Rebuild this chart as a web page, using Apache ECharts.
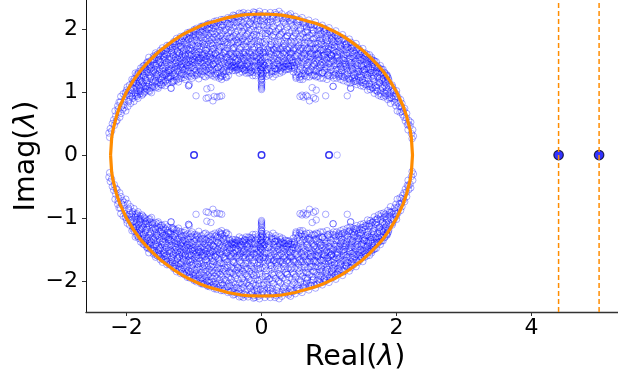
<!DOCTYPE html>
<html><head><meta charset="utf-8">
<style>html,body{margin:0;padding:0;background:#fff}#c{width:618px;height:380px}</style>
<script src="https://cdn.jsdelivr.net/npm/echarts@6/dist/echarts.min.js"></script>
</head><body><div id="c"></div>
<script>
const xTickValues = [-2, 0, 2, 4];
const yTickValues = [-2, -1, 0, 1, 2];
const outlierReal = [4.4, 5.0];
const stackedReal = [-1, 0, 1];
const faintAxisPoints = [[1.12, 0]];
// upper half of the orange ring as read; the lower half is its conjugate
const ringUpper = [[-2.236,0],[-2.22,.27],[-2.2,.4],[-2.15,.61],[-2.1,.77],[-2,1],[-1.9,1.18],[-1.8,1.33],[-1.7,1.45],[-1.6,1.56],[-1.5,1.66],[-1.4,1.74],[-1.3,1.82],[-1.2,1.89],[-1.1,1.95],[-1,2],[-.9,2.05],[-.8,2.09],[-.7,2.12],[-.6,2.15],[-.5,2.18],[-.4,2.2],[-.3,2.22],[-.2,2.23],[-.1,2.234],[0,2.236],[.1,2.234],[.2,2.23],[.3,2.22],[.4,2.2],[.5,2.18],[.6,2.15],[.7,2.12],[.8,2.09],[.9,2.05],[1,2],[1.1,1.95],[1.2,1.89],[1.3,1.82],[1.4,1.74],[1.5,1.66],[1.6,1.56],[1.7,1.45],[1.8,1.33],[1.9,1.18],[2,1],[2.1,.77],[2.15,.61],[2.2,.4],[2.22,.27],[2.236,0]];
// eigenvalues come in conjugate pairs in the picture: only the upper half cloud is listed
const cloudLeft = [
[-2.26,.35],[-2.25,.28],[-2.24,.42],[-2.22,.38],[-2.21,.5],[-2.19,.56],[-2.18,.47],[-2.16,.62],[-2.17,.7],[-2.14,.55],
[-2.12,.68],[-2.1,.6],[-2.13,.78],[-2.11,.84],[-2.08,.66],[-2.06,.72],[-2.04,.8],[-2.09,.84],[-2.02,.93],[-2.05,.97],[-2.01,.7],[-2.03,.88],[-2.07,.78],[-2,1.03],
[-1.98,.77],[-1.96,.88],[-1.94,.82],[-1.92,.98],[-1.97,1.02],[-1.93,1.08],[-1.91,.9],[-1.95,.94],[-1.99,1.08],[-1.9,1.14],[-1.92,1.2],
[-1.89,.85],[-1.87,.94],[-1.85,1.02],[-1.83,.9],[-1.88,1.1],[-1.86,1.19],[-1.84,1.26],[-1.81,1.08],[-1.82,1.32],[-1.8,.97],[-1.87,1.3],[-1.85,1.14],
[-1.79,1.06],[-1.77,.95],[-1.75,1.14],[-1.73,1.01],[-1.78,1.24],[-1.76,1.33],[-1.72,1.2],[-1.74,1.42],[-1.71,1.09],[-1.79,1.38],[-1.77,1.17],[-1.73,1.3],[-1.7,1.46],
[-1.69,1.04],[-1.67,1.12],[-1.65,1.22],[-1.63,.99],[-1.68,1.31],[-1.66,1.4],[-1.62,1.16],[-1.64,1.5],[-1.61,1.3],[-1.69,1.48],[-1.67,1.55],[-1.63,1.38],[-1.6,1.57],[-1.65,1.06],
[-1.59,1.09],[-1.57,1.18],[-1.55,1.28],[-1.53,1.06],[-1.58,1.36],[-1.56,1.45],[-1.52,1.21],[-1.54,1.55],[-1.51,1.36],[-1.59,1.52],[-1.57,1.62],[-1.53,1.44],[-1.5,1.66],[-1.55,1.13],[-1.52,1.58],
[-1.49,1.12],[-1.47,1.24],[-1.45,1.33],[-1.43,1.1],[-1.48,1.42],[-1.46,1.52],[-1.42,1.27],[-1.44,1.61],[-1.41,1.4],[-1.49,1.58],[-1.47,1.7],[-1.43,1.5],[-1.4,1.74],[-1.45,1.18],[-1.42,1.66],[-1.48,1.3],
[-1.39,1.14],[-1.37,1.25],[-1.35,1.36],[-1.33,1.17],[-1.38,1.46],[-1.36,1.56],[-1.32,1.3],[-1.34,1.66],[-1.31,1.44],[-1.39,1.62],[-1.37,1.74],[-1.33,1.54],[-1.3,1.8],[-1.35,1.22],[-1.32,1.71],[-1.38,1.34],[-1.34,1.06],[-1.34,1.06],
[-1.29,1.18],[-1.27,1.3],[-1.25,1.41],[-1.23,1.16],[-1.28,1.5],[-1.26,1.6],[-1.22,1.34],[-1.24,1.71],[-1.21,1.48],[-1.29,1.67],[-1.27,1.8],[-1.23,1.58],[-1.2,1.88],[-1.25,1.24],[-1.22,1.77],[-1.28,1.4],[-1.24,1.52],[-1.26,1.85],
[-1.19,1.22],[-1.17,1.35],[-1.15,1.45],[-1.13,1.2],[-1.18,1.55],[-1.16,1.65],[-1.12,1.38],[-1.14,1.76],[-1.11,1.52],[-1.19,1.72],[-1.17,1.85],[-1.13,1.62],[-1.1,1.94],[-1.15,1.28],[-1.12,1.82],[-1.18,1.44],[-1.14,1.9],[-1.16,1.56],[-1.08,1.1],[-1.08,1.1],[-1.07,1.12],
[-1.09,1.25],[-1.07,1.38],[-1.05,1.5],[-1.03,1.22],[-1.08,1.6],[-1.06,1.7],[-1.02,1.42],[-1.04,1.8],[-1.01,1.56],[-1.09,1.76],[-1.07,1.9],[-1.03,1.66],[-1,1.99],[-1.05,1.3],[-1.02,1.87],[-1.08,1.47],[-1.04,1.94],[-1.06,1.58],[-.97,.94],
[-.99,1.26],[-.97,1.34],[-.95,1.47],[-.93,1.21],[-.98,1.58],[-.96,1.68],[-.92,1.4],[-.94,1.78],[-.91,1.54],[-.99,1.82],[-.97,1.95],[-.93,1.64],[-.9,2.04],[-.95,1.29],[-.92,1.9],[-.98,1.44],[-.94,1.99],[-.96,1.55],[-.91,1.72],
[-.89,1.28],[-.87,1.38],[-.85,1.5],[-.83,1.24],[-.88,1.6],[-.86,1.71],[-.82,1.43],[-.84,1.82],[-.81,1.57],[-.89,1.86],[-.87,1.98],[-.83,1.66],[-.8,2.08],[-.85,1.32],[-.82,1.93],[-.88,1.46],[-.84,2.03],[-.86,1.59],[-.81,1.76],[-.82,.9],[-.79,.91],[-.81,1.05],[-.75,1.07],[-.72,.86],[-.7,.93],
[-.79,1.27],[-.77,1.38],[-.75,1.52],[-.73,1.26],[-.78,1.62],[-.76,1.73],[-.72,1.44],[-.74,1.84],[-.71,1.58],[-.79,1.9],[-.77,2.02],[-.73,1.68],[-.7,2.12],[-.75,1.34],[-.72,1.96],[-.78,1.48],[-.74,2.07],[-.76,1.6],[-.71,1.78],[-.66,.92],[-.59,.94],[-.62,.93],
[-.69,1.24],[-.67,1.36],[-.65,1.5],[-.63,1.22],[-.68,1.62],[-.66,1.74],[-.62,1.42],[-.64,1.86],[-.61,1.56],[-.69,1.92],[-.67,2.05],[-.63,1.68],[-.6,2.15],[-.65,1.3],[-.62,1.98],[-.68,1.46],[-.64,2.1],[-.66,1.58],[-.61,1.8],
[-.59,1.2],[-.57,1.32],[-.55,1.46],[-.53,1.24],[-.58,1.58],[-.56,1.72],[-.52,1.4],[-.54,1.84],[-.51,1.55],[-.59,1.92],[-.57,2.06],[-.53,1.66],[-.5,2.18],[-.55,1.28],[-.52,2],[-.58,1.44],[-.54,2.12],[-.56,1.62],[-.51,1.78],[-.6,1.26],
[-.49,1.26],[-.47,1.36],[-.45,1.48],[-.43,1.34],[-.48,1.6],[-.46,1.74],[-.42,1.42],[-.44,1.86],[-.41,1.56],[-.49,1.94],[-.47,2.08],[-.43,1.68],[-.4,2.21],[-.45,1.4],[-.42,2.02],[-.48,1.5],[-.44,2.15],[-.46,1.62],[-.41,1.8],[-.42,2.22],
[-.39,1.34],[-.37,1.4],[-.35,1.5],[-.33,1.3],[-.38,1.62],[-.36,1.74],[-.32,1.44],[-.34,1.86],[-.31,1.56],[-.39,1.95],[-.37,2.1],[-.33,1.68],[-.3,2.24],[-.35,1.36],[-.32,2.03],[-.38,1.46],[-.34,2.16],[-.36,1.6],[-.31,1.8],[-.33,2.25],
[-.29,1.32],[-.27,1.38],[-.25,1.5],[-.23,1.3],[-.28,1.62],[-.26,1.75],[-.22,1.42],[-.24,1.88],[-.21,1.56],[-.29,1.96],[-.27,2.1],[-.23,1.68],[-.2,2.25],[-.25,1.35],[-.22,2.03],[-.28,1.46],[-.24,2.17],[-.26,1.6],[-.21,1.8],[-.27,2.26],
[-.19,1.3],[-.17,1.38],[-.15,1.5],[-.13,1.26],[-.18,1.62],[-.16,1.75],[-.12,1.42],[-.14,1.88],[-.11,1.56],[-.19,1.97],[-.17,2.11],[-.13,1.68],[-.1,2.26],[-.15,1.33],[-.12,2.04],[-.18,1.46],[-.14,2.17],[-.16,1.6],[-.11,1.8],[-.12,2.27],
[-.09,1.26],[-.07,1.3],[-.05,1.42],[-.08,1.62],[-.06,1.75],[-.04,1.52],[-.03,1.88],[-.09,1.97],[-.07,2.11],[-.02,1.66],[-.05,2.24],[-.08,1.48],[-.04,2.04],[-.06,2.17],[-.03,2.28],[-.02,1.8]
];
const cloudSpike = [
[0,1.04],[0,1.06],[0,1.08],[0,1.1],[0,1.12],[.005,1.15],[-.005,1.18],[.005,1.21],[-.005,1.24],[.01,1.27],[-.01,1.3],[.01,1.33],[-.01,1.36],[.01,1.39],[-.012,1.42],[.015,1.45],[-.015,1.48],[.015,1.51],[-.018,1.54],[.02,1.57],[-.02,1.6],[.022,1.63],[-.024,1.66],[.025,1.69],[0,1.5],[0,1.4],[0,1.3],[0,1.2],[.01,1.25],[-.01,1.35]
];
const cloudRight = [
[.03,1.3],[.05,1.42],[.07,1.56],[.09,1.68],[.04,1.8],[.06,1.93],[.08,2.06],[.02,2.17],[.05,2.26],[.09,1.36],[.07,1.25],[.03,1.62],[.06,1.76],[.08,2],[.04,2.12],[.09,2.22],
[.11,1.27],[.13,1.38],[.15,1.5],[.17,1.24],[.12,1.62],[.14,1.75],[.18,1.42],[.16,1.88],[.19,1.56],[.11,1.97],[.13,2.11],[.17,1.68],[.2,2.26],[.15,1.33],[.18,2.04],[.12,1.46],[.16,2.17],[.14,1.6],[.19,1.8],[.13,2.26],
[.21,1.28],[.23,1.36],[.25,1.5],[.27,1.3],[.22,1.62],[.24,1.75],[.28,1.42],[.26,1.88],[.29,1.56],[.21,1.96],[.23,2.1],[.27,1.68],[.3,2.24],[.25,1.38],[.28,2.03],[.22,1.46],[.26,2.17],[.24,1.6],[.29,1.8],[.26,2.28],
[.31,1.32],[.33,1.4],[.35,1.5],[.37,1.36],[.32,1.62],[.34,1.74],[.38,1.44],[.36,1.86],[.39,1.56],[.31,1.95],[.33,2.1],[.37,1.68],[.4,2.22],[.35,1.35],[.38,2.03],[.32,1.46],[.36,2.16],[.34,1.6],[.39,1.8],[.43,2.24],
[.41,1.36],[.43,1.42],[.45,1.5],[.47,1.32],[.42,1.62],[.44,1.74],[.48,1.42],[.46,1.86],[.49,1.56],[.41,1.94],[.43,2.08],[.47,1.68],[.5,2.2],[.45,1.38],[.48,2.02],[.42,1.5],[.46,2.15],[.44,1.62],[.49,1.8],
[.51,1.22],[.53,1.32],[.55,1.46],[.57,1.2],[.52,1.58],[.54,1.72],[.58,1.4],[.56,1.84],[.59,1.55],[.51,1.92],[.53,2.06],[.57,1.66],[.6,2.18],[.55,1.28],[.58,2],[.52,1.44],[.56,2.12],[.54,1.62],[.59,1.78],[.57,.93],[.6,.95],[.62,.92],[.68,.93],[.66,.95],[.71,.86],[.8,.89],[.77,.91],
[.61,1.2],[.63,1.34],[.65,1.5],[.67,1.24],[.62,1.62],[.64,1.74],[.68,1.42],[.66,1.86],[.69,1.56],[.61,1.92],[.63,2.05],[.67,1.68],[.7,2.14],[.65,1.3],[.68,1.98],[.62,1.46],[.66,2.1],[.64,1.58],[.69,1.8],
[.71,1.24],[.73,1.36],[.75,1.52],[.77,1.26],[.72,1.62],[.74,1.73],[.78,1.44],[.76,1.84],[.79,1.58],[.71,1.9],[.73,2.02],[.77,1.68],[.8,2.11],[.75,1.07],[.81,1.03],[.78,1.34],[.72,1.48],[.74,2.07],[.76,1.6],[.79,1.78],
[.81,1.24],[.83,1.38],[.85,1.5],[.87,1.22],[.82,1.6],[.84,1.71],[.88,1.43],[.86,1.82],[.89,1.57],[.81,1.86],[.83,1.98],[.87,1.66],[.9,2.06],[.85,1.32],[.88,1.93],[.82,1.46],[.86,2.03],[.84,1.59],[.89,1.76],
[.91,1.22],[.93,1.34],[.95,1.47],[.97,1.2],[.92,1.58],[.94,1.68],[.98,1.4],[.96,1.78],[.99,1.54],[.91,1.82],[.93,1.95],[.97,1.64],[1,2.02],[.95,.94],[.98,1.9],[.92,1.44],[.96,1.99],[.94,1.55],[.99,1.72],
[1.01,1.25],[1.03,1.36],[1.05,1.5],[1.07,1.22],[1.02,1.6],[1.04,1.7],[1.08,1.42],[1.06,1.8],[1.09,1.56],[1.01,1.76],[1.03,1.9],[1.07,1.66],[1.1,1.97],[1.06,1.09],[1.06,1.09],[1.02,1.47],[1.06,1.94],[1.04,1.58],[1.09,1.85],
[1.11,1.22],[1.13,1.35],[1.15,1.45],[1.17,1.2],[1.12,1.55],[1.14,1.65],[1.18,1.38],[1.16,1.76],[1.19,1.52],[1.11,1.72],[1.13,1.85],[1.17,1.62],[1.2,1.91],[1.15,1.28],[1.18,1.82],[1.12,1.44],
[1.21,1.18],[1.23,1.3],[1.25,1.41],[1.27,1.16],[1.22,1.5],[1.24,1.6],[1.28,1.34],[1.26,1.71],[1.29,1.48],[1.21,1.67],[1.23,1.8],[1.27,1.58],[1.3,1.84],[1.27,.94],[1.32,1.06],[1.32,1.06],[1.22,1.4],[1.26,1.77],
[1.31,1.14],[1.33,1.25],[1.35,1.36],[1.37,1.17],[1.32,1.46],[1.34,1.56],[1.38,1.3],[1.36,1.66],[1.39,1.44],[1.31,1.62],[1.33,1.74],[1.37,1.54],[1.4,1.77],[1.35,1.22],[1.38,1.71],[1.32,1.34],
[1.41,1.12],[1.43,1.24],[1.45,1.33],[1.47,1.1],[1.42,1.42],[1.44,1.52],[1.48,1.27],[1.46,1.61],[1.49,1.4],[1.41,1.58],[1.43,1.7],[1.47,1.5],[1.5,1.69],[1.45,1.18],[1.48,1.62],[1.42,1.3],
[1.51,1.09],[1.53,1.18],[1.55,1.28],[1.57,1.03],[1.52,1.36],[1.54,1.45],[1.58,1.21],[1.56,1.55],[1.59,1.36],[1.51,1.52],[1.53,1.62],[1.57,1.44],[1.6,1.59],[1.55,1.13],[1.58,1.52],
[1.61,1.04],[1.63,1.12],[1.65,1.22],[1.67,.98],[1.62,1.31],[1.64,1.4],[1.68,1.16],[1.66,1.5],[1.69,1.3],[1.61,1.48],[1.63,1.55],[1.67,1.38],[1.7,1.48],[1.65,1.06],
[1.71,1.02],[1.73,.95],[1.75,1.14],[1.77,.93],[1.72,1.24],[1.74,1.33],[1.78,1.2],[1.76,1.42],[1.79,1.09],[1.71,1.38],[1.73,1.17],[1.77,1.3],[1.8,1.36],
[1.81,.92],[1.83,.98],[1.85,1.02],[1.87,.88],[1.82,1.1],[1.84,1.19],[1.86,1.26],[1.89,1.08],[1.88,1.22],[1.9,.97],[1.83,1.3],
[1.91,.82],[1.93,.9],[1.95,.94],[1.97,.84],[1.92,1.02],[1.94,1.08],[1.96,1.03],[1.99,.78],[1.98,.93],[2,1.02],
[2.01,.7],[2.03,.82],[2.05,.68],[2.07,.76],[2.02,.92],[2.06,.88],[2.09,.64],[2.08,.82],
[2.11,.6],[2.13,.54],[2.15,.66],[2.12,.74],[2.16,.48],[2.18,.55],[2.17,.4],[2.2,.46],[2.22,.34],[2.24,.4],[2.23,.26],[2.25,.3],[2.21,.52]
];
const cloudFillLeft = [
[-2.155,.53],[-2.125,.73],[-2.085,.93],[-2.035,.75],[-2.015,.99],[-1.97,.85],[-1.93,1.03],[-1.915,.93],[-1.955,1.11],[-1.985,.97],[-1.905,1.17],
[-1.875,.97],[-1.835,1.23],[-1.855,1.07],[-1.815,1.01],[-1.895,1.15],[-1.845,.93],[-1.805,1.17],[-1.825,1.29],
[-1.785,1.01],[-1.765,1.27],[-1.745,1.09],[-1.725,1.37],[-1.705,1.15],[-1.755,1.41],[-1.735,.99],[-1.715,1.23],[-1.795,1.19],
[-1.685,1.09],[-1.665,1.27],[-1.645,1.43],[-1.625,1.07],[-1.605,1.19],[-1.695,1.35],[-1.655,1.01],[-1.635,1.33],[-1.615,1.51],[-1.675,1.47],
[-1.585,1.23],[-1.565,1.07],[-1.545,1.39],[-1.525,1.51],[-1.505,1.15],[-1.595,1.43],[-1.555,1.59],[-1.535,1.27],[-1.515,1.47],[-1.575,1.31],[-1.505,1.61],
[-1.485,1.19],[-1.465,1.37],[-1.445,1.55],[-1.425,1.17],[-1.405,1.29],[-1.495,1.47],[-1.455,1.65],[-1.435,1.43],[-1.415,1.59],[-1.475,1.11],[-1.405,1.69],[-1.445,1.27],
[-1.385,1.23],[-1.365,1.41],[-1.345,1.51],[-1.325,1.63],[-1.305,1.17],[-1.395,1.53],[-1.355,1.69],[-1.335,1.37],[-1.315,1.77],[-1.375,1.31],[-1.305,1.57],[-1.345,1.25],
[-1.285,1.25],[-1.265,1.47],[-1.245,1.63],[-1.225,1.21],[-1.205,1.41],[-1.295,1.35],[-1.255,1.75],[-1.235,1.45],[-1.215,1.61],[-1.275,1.55],[-1.205,1.73],[-1.245,1.33],[-1.285,1.73],
[-1.185,1.29],[-1.165,1.51],[-1.145,1.67],[-1.125,1.27],[-1.105,1.43],[-1.195,1.39],[-1.155,1.79],[-1.135,1.49],[-1.115,1.69],[-1.175,1.59],[-1.105,1.87],[-1.145,1.35],[-1.185,1.81],[-1.125,1.57],
[-1.085,1.33],[-1.065,1.53],[-1.045,1.69],[-1.025,1.29],[-1.005,1.47],[-1.095,1.41],[-1.055,1.85],[-1.035,1.59],[-1.015,1.73],[-1.075,1.65],[-1.005,1.91],[-1.045,1.39],[-1.085,1.83],[-1.025,1.49],[-1.065,1.95],
[-.985,1.31],[-.965,1.61],[-.945,1.73],[-.925,1.33],[-.905,1.47],[-.995,1.51],[-.955,1.87],[-.935,1.59],[-.915,1.81],[-.975,1.71],[-.905,1.97],[-.945,1.41],[-.985,1.89],[-.925,1.53],[-.965,2.01],
[-.885,1.33],[-.865,1.55],[-.845,1.75],[-.825,1.35],[-.805,1.49],[-.895,1.53],[-.855,1.91],[-.835,1.61],[-.815,1.85],[-.875,1.77],[-.805,2.01],[-.845,1.41],[-.885,1.95],[-.825,1.53],[-.865,2.05],[-.805,1.69],
[-.785,1.31],[-.765,1.55],[-.745,1.77],[-.725,1.35],[-.705,1.51],[-.795,1.43],[-.755,1.93],[-.735,1.63],[-.715,1.87],[-.775,1.81],[-.705,2.05],[-.745,1.41],[-.785,1.99],[-.725,1.53],[-.765,2.09],[-.705,1.69],
[-.685,1.29],[-.665,1.53],[-.645,1.79],[-.625,1.31],[-.605,1.49],[-.695,1.41],[-.655,1.95],[-.635,1.65],[-.615,1.89],[-.675,1.83],[-.605,2.07],[-.645,1.39],[-.685,2.01],[-.625,1.55],[-.665,2.13],[-.605,1.71],
[-.585,1.25],[-.565,1.51],[-.545,1.79],[-.525,1.33],[-.505,1.47],[-.595,1.37],[-.555,1.97],[-.535,1.61],[-.515,1.89],[-.575,1.85],[-.505,2.09],[-.545,1.39],[-.585,2.03],[-.525,1.55],[-.565,2.15],[-.505,1.69],
[-.485,1.33],[-.465,1.51],[-.445,1.79],[-.425,1.47],[-.405,1.39],[-.495,1.43],[-.455,1.97],[-.435,1.61],[-.415,1.89],[-.475,1.85],[-.405,2.11],[-.445,1.41],[-.485,2.03],[-.425,1.55],[-.465,2.17],[-.405,1.71],
[-.385,1.39],[-.365,1.53],[-.345,1.79],[-.325,1.37],[-.305,1.49],[-.395,1.41],[-.355,1.97],[-.335,1.63],[-.315,1.89],[-.375,1.83],[-.305,2.13],[-.345,1.43],[-.385,2.05],[-.325,1.57],[-.365,2.19],[-.305,1.71],
[-.285,1.37],[-.265,1.53],[-.245,1.81],[-.225,1.35],[-.205,1.49],[-.295,1.43],[-.255,1.99],[-.235,1.63],[-.215,1.91],[-.275,1.85],[-.205,2.13],[-.245,1.41],[-.285,2.05],[-.225,1.57],[-.265,2.21],[-.205,1.71],
[-.185,1.35],[-.165,1.53],[-.145,1.81],[-.125,1.31],[-.105,1.49],[-.195,1.41],[-.155,1.99],[-.135,1.63],[-.115,1.91],[-.175,1.85],[-.105,2.15],[-.145,1.39],[-.185,2.07],[-.125,1.57],[-.165,2.21],[-.105,1.71],
[-.085,1.35],[-.065,1.55],[-.045,1.81],[-.025,1.45],[-.095,1.41],[-.055,1.99],[-.035,1.63],[-.075,1.91],[-.015,2.13],[-.085,2.07],[-.025,1.73],[-.065,2.21]
];
const cloudFillRight = [
[.015,1.93],[.035,1.43],[.055,1.63],[.075,1.83],[.095,1.47],[.025,2.07],[.065,1.35],[.085,1.93],[.045,2.19],[.095,2.11],
[.105,1.41],[.125,1.55],[.145,1.81],[.165,1.33],[.185,1.49],[.115,1.71],[.155,1.99],[.135,1.65],[.175,1.91],[.195,1.37],[.125,2.15],[.165,2.21],[.185,1.67],
[.205,1.33],[.225,1.53],[.245,1.81],[.265,1.41],[.285,1.49],[.215,1.71],[.255,1.99],[.235,1.65],[.275,1.91],[.295,1.37],[.225,2.15],[.265,2.21],[.285,1.69],
[.305,1.39],[.325,1.53],[.345,1.81],[.365,1.45],[.385,1.49],[.315,1.71],[.355,1.97],[.335,1.65],[.375,1.89],[.395,1.41],[.325,2.13],[.365,2.19],[.385,1.67],
[.405,1.41],[.425,1.55],[.445,1.79],[.465,1.47],[.485,1.37],[.415,1.69],[.455,1.97],[.435,1.61],[.475,1.89],[.495,1.47],[.425,2.13],[.465,2.17],[.485,1.69],
[.505,1.27],[.525,1.51],[.545,1.79],[.565,1.35],[.585,1.25],[.515,1.69],[.555,1.97],[.535,1.57],[.575,1.89],[.595,1.47],[.525,2.11],[.565,2.15],[.585,1.69],
[.605,1.29],[.625,1.53],[.645,1.79],[.665,1.37],[.685,1.33],[.615,1.69],[.655,1.95],[.635,1.61],[.675,1.87],[.695,1.47],[.625,2.09],[.665,2.03],[.685,1.69],
[.705,1.31],[.725,1.55],[.745,1.77],[.765,1.41],[.785,1.27],[.715,1.69],[.755,1.93],[.735,1.61],[.775,1.85],[.795,1.49],[.725,2.07],[.765,1.97],[.785,1.67],
[.805,1.33],[.825,1.53],[.845,1.77],[.865,1.39],[.885,1.29],[.815,1.69],[.855,1.91],[.835,1.61],[.875,1.85],[.895,1.47],[.825,2.05],[.865,1.97],[.885,1.67],
[.905,1.31],[.925,1.51],[.945,1.73],[.965,1.37],[.985,1.27],[.915,1.67],[.955,1.87],[.935,1.59],[.975,1.81],[.995,1.45],[.925,2.01],[.965,1.93],[.985,1.63],
[1.005,1.31],[1.025,1.53],[1.045,1.75],[1.065,1.33],[1.085,1.27],[1.015,1.67],[1.055,1.87],[1.035,1.57],[1.075,1.79],[1.095,1.45],[1.025,1.95],[1.065,1.61],[1.085,1.91],
[1.105,1.29],[1.125,1.49],[1.145,1.71],[1.165,1.31],[1.185,1.25],[1.115,1.63],[1.155,1.83],[1.135,1.57],[1.175,1.73],[1.195,1.45],[1.125,1.89],[1.165,1.41],
[1.205,1.25],[1.225,1.45],[1.245,1.67],[1.265,1.27],[1.285,1.21],[1.215,1.59],[1.255,1.75],[1.235,1.53],[1.275,1.71],[1.295,1.41],[1.225,1.85],[1.265,1.37],
[1.305,1.21],[1.325,1.41],[1.345,1.63],[1.365,1.27],[1.385,1.17],[1.315,1.53],[1.355,1.71],[1.335,1.47],[1.375,1.61],[1.395,1.37],[1.325,1.79],
[1.405,1.19],[1.425,1.37],[1.445,1.59],[1.465,1.23],[1.485,1.15],[1.415,1.49],[1.455,1.67],[1.435,1.45],[1.475,1.55],[1.495,1.33],
[1.505,1.15],[1.525,1.31],[1.545,1.51],[1.565,1.23],[1.585,1.09],[1.515,1.43],[1.555,1.37],[1.535,1.57],[1.575,1.49],[1.595,1.29],
[1.605,1.09],[1.625,1.25],[1.645,1.47],[1.665,1.19],[1.685,1.03],[1.615,1.37],[1.655,1.31],[1.635,1.51],[1.675,1.43],
[1.705,1.07],[1.725,1.31],[1.745,1.21],[1.765,1.03],[1.785,1.31],[1.715,1.41],[1.755,1.37],[1.795,1.17],
[1.815,.99],[1.835,1.15],[1.855,1.25],[1.875,.95],[1.895,1.13],[1.845,1.07],[1.865,1.19],[1.805,1.27],
[1.915,.91],[1.935,1.11],[1.955,1.01],[1.975,.89],[1.995,.97],[2.015,.83],[2.045,.77],[2.075,.69],[2.105,.71],[2.145,.59],[2.175,.49]
];
const cloudSweep = [
[-1.9,1.05],[-1.885,1.21],[-1.872,.99],[-1.86,1.14],[-1.848,1.28],[-1.836,.96],[-1.822,1.11],[-1.81,1.24],[-1.796,1.03],[-1.783,1.34],[-1.771,1.12],[-1.758,.97],[-1.744,1.26],[-1.731,1.39],[-1.719,1.06],[-1.707,1.32],[-1.693,1.18],[-1.68,1.43],[-1.668,1.02],[-1.655,1.36],[-1.641,1.24],[-1.629,1.48],[-1.617,1.11],[-1.603,1.34],
[-1.59,1.55],[-1.578,1.16],[-1.566,1.42],[-1.553,1.25],[-1.541,1.6],[-1.528,1.09],[-1.514,1.33],[-1.502,1.49],[-1.49,1.22],[-1.477,1.64],[-1.463,1.38],[-1.451,1.15],[-1.439,1.57],[-1.426,1.3],[-1.412,1.47],[-1.4,1.68],[-1.387,1.2],[-1.374,1.52],[-1.362,1.34],[-1.349,1.72],[-1.337,1.43],[-1.323,1.15],[-1.311,1.6],[-1.299,1.28],
[-1.286,1.77],[-1.273,1.46],[-1.261,1.19],[-1.248,1.65],[-1.236,1.37],[-1.222,1.82],[-1.21,1.54],[-1.197,1.27],[-1.185,1.7],[-1.172,1.4],[-1.159,1.88],[-1.147,1.23],[-1.133,1.59],[-1.121,1.46],[-1.108,1.79],[-1.096,1.33],[-1.083,1.67],[-1.07,1.92],[-1.058,1.44],[-1.045,1.25],[-1.031,1.75],[-1.019,1.52],[-1.007,1.97],
[-.994,1.37],[-.981,1.63],[-.968,1.83],[-.956,1.27],[-.942,1.5],[-.93,1.92],[-.917,1.68],[-.904,1.35],[-.891,2.03],[-.878,1.58],[-.866,1.79],[-.852,1.25],[-.84,1.47],[-.827,1.96],[-.814,1.66],[-.801,2.07],[-.789,1.37],[-.776,1.87],[-.763,1.56],[-.75,1.29],[-.737,2.01],[-.724,1.74],[-.712,1.45],
[-.699,2.09],[-.686,1.61],[-.673,1.27],[-.66,1.89],[-.647,1.39],[-.634,2.03],[-.621,1.72],[-.609,1.24],[-.596,1.53],[-.583,2.12],[-.57,1.81],[-.557,1.35],[-.544,1.64],[-.531,1.98],[-.519,1.23],[-.506,1.75],[-.493,2.15],[-.48,1.44],[-.467,1.87],[-.454,1.57],[-.441,2.07],[-.428,1.38],[-.416,1.69],
[-.403,2.18],[-.39,1.51],[-.377,1.91],[-.364,1.35],[-.351,1.78],[-.338,2.11],[-.325,1.6],[-.313,1.42],[-.3,2.2],[-.287,1.83],[-.274,1.54],[-.261,2.02],[-.248,1.34],[-.235,1.72],[-.222,2.22],[-.21,1.45],[-.197,1.93],[-.184,1.64],[-.171,1.31],[-.158,2.09],[-.145,1.76],[-.132,1.49],[-.119,2.23],
[-.107,1.37],[-.094,1.86],[-.081,1.59],[-.068,2.14],[-.055,1.33],[-.042,1.7],[-.029,1.98],[-.016,1.47],[-.004,2.22],[.009,1.78],[.022,1.38],[.035,2.05],[.048,1.55],[.061,1.89],[.074,1.3],[.087,2.19],[.1,1.65],[.113,1.44],[.126,1.96],[.139,1.75],[.151,1.3],[.164,2.11],[.177,1.53],
[.19,1.86],[.203,1.37],[.216,2.23],[.229,1.69],[.242,1.44],[.255,2.01],[.268,1.59],[.281,1.34],[.293,1.92],[.306,2.17],[.319,1.48],[.332,1.77],[.345,1.4],[.358,2.08],[.371,1.62],[.384,1.89],[.397,1.37],[.41,2.19],[.422,1.54],[.435,1.81],[.448,1.42],[.461,2.05],[.474,1.66],[.487,1.39],
[.5,1.94],[.513,1.24],[.526,2.14],[.539,1.49],[.552,1.74],[.564,1.23],[.577,2.02],[.59,1.58],[.603,1.35],[.616,1.86],[.629,2.11],[.642,1.26],[.655,1.66],[.668,1.44],[.681,1.95],[.694,2.08],[.707,1.34],[.72,1.77],[.733,1.57],[.746,1.27],[.758,1.99],[.771,1.46],[.784,2.06],[.797,1.71],
[.81,1.36],[.823,1.9],[.836,1.25],[.849,1.55],[.862,2.01],[.875,1.43],[.888,1.79],[.901,1.3],[.914,1.62],[.927,1.97],[.939,1.4],[.952,1.84],[.965,1.52],[.978,1.26],[.991,1.69],[1.004,1.94],[1.017,1.39],[1.03,1.59],[1.043,1.83],[1.056,1.26],[1.069,1.49],[1.082,1.73],[1.095,1.9],
[1.108,1.36],[1.12,1.59],[1.133,1.8],[1.146,1.25],[1.159,1.5],[1.172,1.69],[1.185,1.34],[1.198,1.84],[1.211,1.56],[1.224,1.23],[1.237,1.74],[1.25,1.44],[1.263,1.63],[1.276,1.29],[1.289,1.78],[1.301,1.52],[1.314,1.19],[1.327,1.69],[1.34,1.38],[1.353,1.59],[1.366,1.74],[1.379,1.23],
[1.392,1.49],[1.405,1.66],[1.418,1.16],[1.431,1.33],[1.444,1.55],[1.457,1.27],[1.47,1.64],[1.482,1.42],[1.495,1.2],[1.508,1.58],[1.521,1.35],[1.534,1.12],[1.547,1.47],[1.56,1.6],[1.573,1.26],[1.586,1.4],[1.599,1.13],[1.612,1.53],[1.625,1.34],[1.638,1.07],[1.651,1.44],[1.664,1.26],
[1.677,1.49],[1.69,1.1],[1.703,1.33],[1.716,1.01],[1.729,1.39],[1.742,1.15],[1.755,1.28],[1.768,.97],[1.781,1.36],[1.794,1.06],[1.807,1.22],[1.82,1.31],[1.833,.94],[1.846,1.13],[1.859,1.27],[1.872,1.01],[1.885,1.19],[1.898,.9]
];
const upperCloud = cloudLeft.concat(cloudSpike, cloudRight, cloudFillLeft, cloudFillRight, cloudSweep);
const cloud = upperCloud.concat(upperCloud.map(([re, im]) => [re, -im]));
const ring = ringUpper.concat(ringUpper.slice().reverse().map(([re, im]) => [re, -im]));
const stacked = stackedReal.map(re => [re, 0]);
const outliers = outlierReal.map(re => [re, 0]);

const FONT = 'DejaVu Sans';
const minus = v => String(v).replace('-', '\u2212');
const label = a => '{n|' + a + '(}{i|\u03bb}{n|)}';
const rich = {
  n: {fontFamily: FONT, fontSize: 28.5, color: '#000'},
  i: {fontFamily: FONT, fontStyle: 'italic', fontSize: 28.5, color: '#000'}
};
const Y_MIN = -2.49, Y_MAX = 2.46;
const chart = echarts.init(document.getElementById('c'), null, {renderer: 'canvas'});
chart.setOption({
  animation: false,
  backgroundColor: '#fff',
  grid: {left: 86, right: 0, top: 0, bottom: 68, outerBoundsMode: 'none'},
  xAxis: {
    type: 'value', min: -2.6, max: 5.28, splitLine: {show: false},
    name: label('Real'), nameLocation: 'middle', nameGap: 31, nameMoveOverlap: false, nameTextStyle: {rich, padding: [0, 0, 0, 6]},
    axisLine: {show: true, onZero: false, lineStyle: {color: '#333', width: 1.4}},
    axisTick: {show: true, length: 4, customValues: xTickValues, lineStyle: {color: '#333', width: 1}},
    axisLabel: {customValues: xTickValues, formatter: minus, fontFamily: FONT, fontSize: 22, color: '#000', margin: 5}
  },
  yAxis: {
    type: 'value', min: Y_MIN, max: Y_MAX, splitLine: {show: false},
    name: label('Imag'), nameLocation: 'middle', nameGap: 45, nameRotate: 90, nameMoveOverlap: false, nameTextStyle: {rich},
    axisLine: {show: true, onZero: false, lineStyle: {color: '#111', width: 1}},
    axisTick: {show: true, length: 4, customValues: yTickValues, lineStyle: {color: '#333', width: 1}},
    axisLabel: {customValues: yTickValues, formatter: minus, fontFamily: FONT, fontSize: 22, color: '#000', margin: 8, padding: [7, 0, 0, 0]}
  },
  series: [
    {type: 'scatter', data: cloud, symbolSize: 6.5, z: 2, silent: true,
      itemStyle: {color: 'rgba(0,0,255,0)', borderColor: 'rgba(0,0,255,0.42)', borderWidth: 1}},
    {type: 'scatter', data: faintAxisPoints, symbolSize: 6.5, z: 2, silent: true,
      itemStyle: {color: 'rgba(0,0,255,0)', borderColor: 'rgba(0,0,255,0.35)', borderWidth: 1}},
    {type: 'scatter', data: stacked, symbolSize: 6.5, z: 3, silent: true,
      itemStyle: {color: 'rgba(0,0,255,0)', borderColor: '#0000f0', borderWidth: 1.5}},
    {type: 'scatter', data: outliers, symbolSize: 9.5, z: 3, silent: true,
      itemStyle: {color: '#0000ff', borderColor: '#000020', borderWidth: 1.2}},
    {type: 'line', data: ring, showSymbol: false, symbol: 'none', z: 5, silent: true, clip: true,
      lineStyle: {color: '#ff8c00', width: 3.2, join: 'round'}},
    ...outlierReal.map(re => ({type: 'line', data: [[re, Y_MIN], [re, Y_MAX]], symbol: 'none', z: 5, silent: true,
      lineStyle: {color: '#ff8c00', width: 1.5, type: [5, 3]}}))
  ]
});
</script></body></html>
